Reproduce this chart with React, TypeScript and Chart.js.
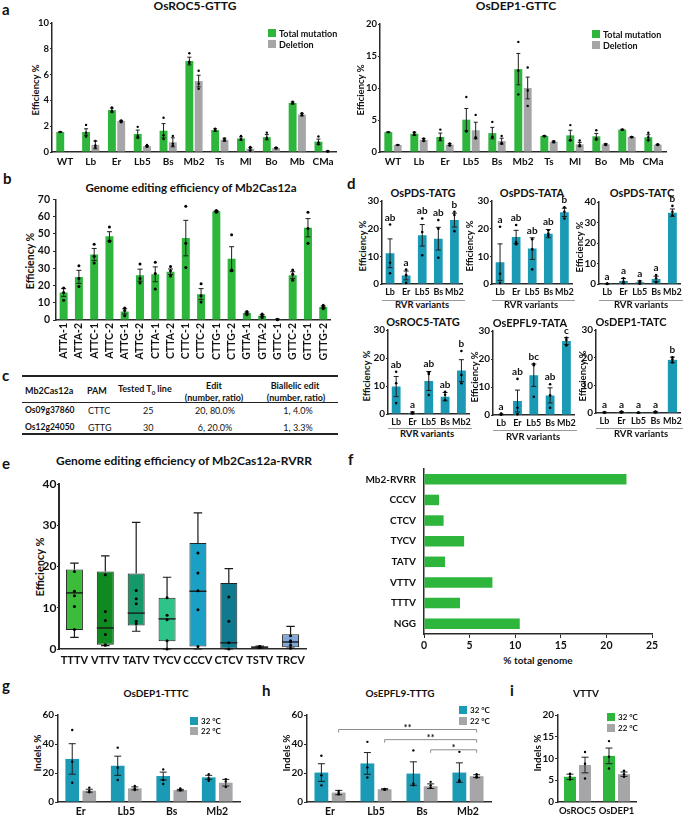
import React, { useEffect, useRef } from 'react';
import { Chart, registerables } from 'chart.js';

Chart.register(...registerables);

const FONT = 'Lato, "Open Sans", "DejaVu Sans", sans-serif';
const GREEN = '#2db53c';
const GRAY = '#a6a6a9';
const BLUE = '#1a9ab5';
const INK = '#111111';
const AXIS = '#2a2a2a';

// ---------- panel a ----------
const aCategories = ['WT', 'Lb', 'Er', 'Lb5', 'Bs', 'Mb2', 'Ts', 'Ml', 'Bo', 'Mb', 'CMa'];
const aRocTotal = [1.55, 1.55, 3.25, 1.4, 1.65, 7.05, 1.7, 1.05, 1.15, 3.8, 0.8];
const aRocTotalErr = [0.03, 0.25, 0.15, 0.3, 0.55, 0.3, 0.1, 0.12, 0.2, 0.08, 0.2];
const aRocTotalDots = [[1.55], [2.1, 1.5, 1.2], [3.45, 3.2, 3.1], [1.95, 1.25, 1.1], [2.65, 1.3, 1.0], [7.65, 7.0, 6.9], [1.8, 1.7, 1.65], [1.25, 1.0, 0.95], [1.5, 1.1, 1.0], [3.9, 3.8, 3.75], [1.2, 0.75, 0.6]];
const aRocDeletion = [0, 0.55, 2.4, 0.45, 0.75, 5.5, 0.95, 0.25, 0.3, 2.9, 0.05];
const aRocDeletionErr = [0, 0.3, 0.05, 0.05, 0.35, 0.45, 0.12, 0.1, 0.05, 0.1, 0.03];
const aRocDeletionDots = [[], [0.85, 0.5, 0.35], [2.45, 2.35, 2.3], [0.55, 0.45, 0.4], [1.25, 0.65, 0.5], [6.3, 5.3, 4.9], [1.05, 0.95, 0.9], [0.4, 0.3, 0.1], [0.35, 0.3, 0.3], [3.0, 2.9, 2.85], [0.08, 0.05, 0.03]];

const aDepTotal = [3.1, 2.85, 2.35, 5.05, 2.95, 12.95, 2.5, 2.6, 2.45, 3.5, 2.3];
const aDepTotalErr = [0.05, 0.25, 0.6, 1.75, 0.9, 2.45, 0.05, 0.8, 0.45, 0.05, 0.4];
const aDepTotalDots = [[3.1], [3.1, 2.8, 2.7], [3.5, 2.2, 1.9], [8.6, 3.3, 3.2], [4.7, 2.4, 2.3], [17.2, 12.7, 9.0], [2.5, 2.5, 2.45], [4.2, 1.9, 1.8], [3.4, 2.1, 1.9], [3.5, 3.5, 3.45], [3.0, 2.3, 1.8]];
const aDepDeletion = [1.1, 1.9, 1.15, 3.4, 1.7, 10.0, 1.6, 1.2, 1.2, 2.35, 1.15];
const aDepDeletionErr = [0.03, 0.2, 0.15, 1.25, 0.45, 1.7, 0.1, 0.3, 0.1, 0.03, 0.05];
const aDepDeletionDots = [[1.1], [2.1, 1.9, 1.7], [1.35, 1.1, 1.0], [5.8, 2.3, 2.1], [2.5, 1.4, 1.3], [13.2, 9.6, 7.2], [1.7, 1.6, 1.5], [1.8, 1.1, 0.9], [1.25, 1.2, 1.1], [2.35, 2.35, 2.3], [1.2, 1.15, 1.1]];

// ---------- panel b ----------
const bCategories = ['ATTA-1', 'ATTA-2', 'ATTC-1', 'ATTC-2', 'ATTG-1', 'ATTG-2', 'CTTA-1', 'CTTA-2', 'CTTC-1', 'CTTC-2', 'CTTG-1', 'CTTG-2', 'GTTA-1', 'GTTA-2', 'GTTC-1', 'GTTC-2', 'GTTG-1', 'GTTG-2'];
const bValues = [16, 25, 38, 48.5, 5, 26, 26.5, 28, 47.5, 15, 63, 35.5, 4, 2.5, 0.4, 26, 53.5, 7.5];
const bErr = [2.3, 3.8, 3.5, 2.7, 1.5, 3.5, 4.3, 1.6, 10.3, 3.2, 0.3, 7, 0.6, 0.6, 0.1, 2, 5.3, 0.6];
const bDots = [[18.5, 16, 11.5], [31.5, 24, 19.5], [44, 37, 33], [54, 46, 45.5], [7, 5.5, 2.5], [32.5, 24, 21.5], [33.5, 27, 18], [31, 28.5, 25.5], [66, 44.5, 30.5], [21, 14, 10.5], [63.5, 63, 62.5], [49.5, 29, 28.5], [5, 4, 3], [3.5, 2.5, 1.5], [0.5, 0.3, 0.2], [29, 26.5, 23], [62.5, 53, 44.5], [8.5, 7.5, 6.5]];

// ---------- panel c ----------
const cGenes = ['Os09g37860', 'Os12g24050'];
const cPAM = ['CTTC', 'GTTG'];
const cTested = ['25', '30'];
const cEdit = ['20, 80.0%', '6, 20.0%'];
const cBiallelic = ['1, 4.0%', '1, 3.3%'];

// ---------- panel d ----------
const dCategories = ['Lb', 'Er', 'Lb5', 'Bs', 'Mb2'];
const dTitles = ['OsPDS-TATG', 'OsPDS-TATA', 'OsPDS-TATC', 'OsROC5-TATG', 'OsEPFL9-TATA', 'OsDEP1-TATC'];
const dValues = [
  [11.1, 3.1, 17.6, 16.4, 23.1],
  [7.9, 17.0, 12.8, 18.2, 25.9],
  [0.1, 1.5, 0.8, 2.5, 34.8],
  [9.8, 0.4, 11.8, 6.2, 15.5],
  [0.2, 5.0, 14.2, 7.0, 26.4],
  [0.2, 0.3, 0.1, 0.3, 19.2],
];
const dErr = [
  [5.2, 1.6, 3.9, 4.1, 2.5],
  [6.6, 2.4, 3.9, 1.5, 1.5],
  [0.1, 1.2, 0.7, 1.3, 1.8],
  [3.6, 0.3, 3.4, 1.5, 3.9],
  [0.1, 3.9, 4.0, 2.7, 1.2],
  [0.1, 0.2, 0.05, 0.2, 1.0],
];
const dDots = [
  [[21.5, 7.7, 3.9], [5.2, 3.2, 0.4], [23.7, 18.8, 10.4], [23.1, 20, 9.5], [26.1, 24.9, 19.1]],
  [[20.7, 3.7, 0.4], [21.3, 15.2, 14.4], [16.2, 12.5, 5.3], [19.4, 18.2, 17.4], [27.7, 26.1, 23.7]],
  [[0.2, 0.1, 0], [2.8, 1.2, 0.4], [1.5, 0.8, 0.2], [4.4, 2.8, 0.8], [38.1, 35.2, 33.5]],
  [[15.1, 11, 3.9], [0.6, 0.4, 0.2], [14.9, 14.3, 6.8], [7.9, 6.9, 5.0], [22.5, 13.9, 11]],
  [[0.5, 0.3, 0.1], [12.9, 2.6, 0.3], [18.3, 17.8, 6.5], [11, 7, 2.6], [27.6, 26.8, 24.8]],
  [[0.3, 0.2, 0.1], [0.5, 0.3, 0.2], [0.2, 0.1, 0.1], [0.5, 0.3, 0.2], [20.1, 19.3, 18.3]],
];
const dLetters = [
  ['ab', 'a', 'ab', 'ab', 'b'],
  ['a', 'ab', 'ab', 'ab', 'b'],
  ['a', 'a', 'a', 'a', 'b'],
  ['ab', 'a', 'ab', 'ab', 'b'],
  ['a', 'ab', 'bc', 'ab', 'c'],
  ['a', 'a', 'a', 'a', 'b'],
];
const dYMax = [30, 30, 40, 30, 30, 30];

// ---------- panel e ----------
const eCategories = ['TTTV', 'VTTV', 'TATV', 'TYCV', 'CCCV', 'CTCV', 'TSTV', 'TRCV'];
const eMin = [2.8, 0.8, 4.3, 0, 0, 0, 0.2, 0.2];
const eQ1 = [4.6, 1.05, 5.7, 1.9, 0.6, 0.05, 0.3, 0.4];
const eMedian = [13.6, 5.1, 8.7, 7.3, 14.0, 1.5, 0.45, 1.7];
const eQ3 = [19.3, 18.8, 18.3, 12.4, 25.7, 16.0, 0.6, 3.6];
const eMax = [20.8, 22.6, 30.7, 17.4, 33.0, 19.5, 0.7, 5.5];
const ePoints = [
  [18.8, 14.0, 12.9, 10.3, 4.7],
  [18.0, 9.1, 6.9, 3.5, 1.05, 0.9],
  [14.2, 12.2, 11.0, 6.7, 6.1],
  [12.4, 8.2, 7.1, 2.0, 0],
  [23.3, 18.4, 14.1, 9.5, 0.6],
  [12.6, 6.7, 1.5, 0],
  [0.6, 0.55, 0.5, 0.45, 0.4, 0.35],
  [3.2, 2.0, 1.7, 0.9, 0.2],
];
const eColors = ['#3cbc3a', '#0f8a21', '#16996a', '#2ec487', '#1b9fc4', '#117a8f', '#2f6272', '#7fa8d8'];

// ---------- panel f ----------
const fCategories = ['Mb2-RVRR', 'CCCV', 'CTCV', 'TYCV', 'TATV', 'VTTV', 'TTTV', 'NGG'];
const fValues = [22.2, 1.65, 2.15, 4.4, 2.3, 7.5, 3.95, 10.5];

// ---------- panel g ----------
const gCategories = ['Er', 'Lb5', 'Bs', 'Mb2'];
const g32 = [29.7, 25.0, 17.9, 17.0];
const g32Err = [10.5, 6.6, 2.7, 1.4];
const g32Dots = [[49.7, 27.8, 13.3], [37.5, 23.7, 15.2], [22.5, 15.2, 12.4], [19.1, 16.4, 14.7]];
const g22 = [7.8, 9.4, 8.2, 13.3];
const g22Err = [1.0, 1.0, 0.5, 2.3];
const g22Dots = [[9.9, 7.6, 6.7], [11, 9.4, 8.3], [9.4, 8.3, 8.1], [15.8, 14.2, 10.3]];

// ---------- panel h ----------
const hCategories = ['Er', 'Lb5', 'Bs', 'Mb2'];
const h32 = [20.3, 26.6, 19.6, 20.3];
const h32Err = [6.1, 7.5, 8.1, 6.7];
const h32Dots = [[31.9, 18.5, 11.5], [41.5, 23.8, 16.9], [35.6, 12.7, 11.5], [34.6, 15, 13.9]];
const h22 = [6.5, 8.8, 10.9, 17.8];
const h22Err = [1.5, 0.4, 1.6, 1.0];
const h22Dots = [[7.6, 6.2, 5.3], [9, 8.7, 8.5], [13.9, 11.5, 9.9], [19.2, 17.8, 16.9]];
const hBrackets: [number, number, number, string][] = [[0, 3, 50, '**'], [1, 3, 43, '**'], [2, 3, 36, '*']];

// ---------- panel i ----------
const iCategories = ['OsROC5', 'OsDEP1'];
const i32 = [5.8, 10.6];
const i32Err = [0.6, 1.8];
const i32Dots = [[6.5, 5.8, 5.2], [14, 10.4, 7.7]];
const i22 = [8.5, 6.4];
const i22Err = [1.8, 0.5];
const i22Dots = [[11.5, 8.8, 5.4], [7.2, 6.4, 5.8]];

// ---------- drawing helpers ----------
type Decor = {
  errors?: number[][];
  dots?: number[][][];
  letters?: string[];
  brackets?: [number, number, number, string][];
  cap?: number;
  dotR?: number;
};

function decorPlugin(cfg: Decor) {
  return {
    id: 'decor',
    afterDatasetsDraw(chart: any) {
      const ctx = chart.ctx as CanvasRenderingContext2D;
      const ys = chart.scales.y;
      const cap = cfg.cap ?? 2.5;
      const r = cfg.dotR ?? 1.4;
      ctx.save();
      chart.data.datasets.forEach((ds: any, di: number) => {
        const meta = chart.getDatasetMeta(di);
        meta.data.forEach((el: any, j: number) => {
          const v = ds.data[j] as number;
          const e = cfg.errors?.[di]?.[j] ?? 0;
          if (e > 0) {
            const yTop = ys.getPixelForValue(v + e);
            const yBot = ys.getPixelForValue(Math.max(0, v - e));
            ctx.strokeStyle = '#1e1e1e';
            ctx.lineWidth = 1;
            ctx.beginPath();
            ctx.moveTo(el.x, yBot);
            ctx.lineTo(el.x, yTop);
            ctx.moveTo(el.x - cap, yTop);
            ctx.lineTo(el.x + cap, yTop);
            ctx.moveTo(el.x - cap, yBot);
            ctx.lineTo(el.x + cap, yBot);
            ctx.stroke();
          }
          const pts = cfg.dots?.[di]?.[j] ?? [];
          ctx.fillStyle = '#000';
          pts.forEach((p) => {
            ctx.beginPath();
            ctx.arc(el.x, ys.getPixelForValue(p), r, 0, Math.PI * 2);
            ctx.fill();
          });
        });
      });
      if (cfg.letters) {
        const meta = chart.getDatasetMeta(0);
        const ds = chart.data.datasets[0];
        ctx.fillStyle = INK;
        ctx.font = `bold 10px ${FONT}`;
        ctx.textAlign = 'center';
        ctx.textBaseline = 'alphabetic';
        meta.data.forEach((el: any, j: number) => {
          const v = ds.data[j] as number;
          const e = cfg.errors?.[0]?.[j] ?? 0;
          const top = Math.max(v + e, ...(cfg.dots?.[0]?.[j] ?? [0]));
          ctx.fillText(cfg.letters![j], el.x, ys.getPixelForValue(top) - 4);
        });
      }
      if (cfg.brackets) {
        const meta = chart.getDatasetMeta(1);
        cfg.brackets.forEach(([a, b, val, label]) => {
          const x1 = meta.data[a].x;
          const x2 = meta.data[b].x;
          const y = ys.getPixelForValue(val);
          ctx.strokeStyle = '#8c8c8c';
          ctx.lineWidth = 1;
          ctx.beginPath();
          ctx.moveTo(x1, y + 3);
          ctx.lineTo(x1, y);
          ctx.lineTo(x2, y);
          ctx.lineTo(x2, y + 3);
          ctx.stroke();
          ctx.fillStyle = INK;
          ctx.font = `bold 9px ${FONT}`;
          ctx.textAlign = 'center';
          ctx.textBaseline = 'alphabetic';
          ctx.fillText(label, (x1 + x2) / 2, y + 1.5);
        });
      }
      ctx.restore();
    },
  };
}

function boxPlugin() {
  return {
    id: 'boxes',
    afterDatasetsDraw(chart: any) {
      const ctx = chart.ctx as CanvasRenderingContext2D;
      const ys = chart.scales.y;
      const meta = chart.getDatasetMeta(0);
      ctx.save();
      meta.data.forEach((el: any, j: number) => {
        const x = el.x;
        const w = el.width;
        ctx.strokeStyle = '#1a1a1a';
        ctx.lineWidth = 1.2;
        ctx.beginPath();
        ctx.moveTo(x, ys.getPixelForValue(eQ3[j]));
        ctx.lineTo(x, ys.getPixelForValue(eMax[j]));
        ctx.moveTo(x - w * 0.25, ys.getPixelForValue(eMax[j]));
        ctx.lineTo(x + w * 0.25, ys.getPixelForValue(eMax[j]));
        ctx.moveTo(x, ys.getPixelForValue(eQ1[j]));
        ctx.lineTo(x, ys.getPixelForValue(eMin[j]));
        ctx.moveTo(x - w * 0.25, ys.getPixelForValue(eMin[j]));
        ctx.lineTo(x + w * 0.25, ys.getPixelForValue(eMin[j]));
        ctx.stroke();
        ctx.lineWidth = 1.4;
        ctx.beginPath();
        ctx.moveTo(x - w / 2, ys.getPixelForValue(eMedian[j]));
        ctx.lineTo(x + w / 2, ys.getPixelForValue(eMedian[j]));
        ctx.stroke();
        ctx.fillStyle = '#000';
        ePoints[j].forEach((p) => {
          ctx.beginPath();
          ctx.arc(x, ys.getPixelForValue(p), 1.5, 0, Math.PI * 2);
          ctx.fill();
        });
      });
      ctx.restore();
    },
  };
}

const font = (size: number) => ({ family: FONT, size, weight: 'bold' as const });

function yLinear(min: number, max: number, step: number, w: number, size: number, tl: number, pad: number) {
  return {
    type: 'linear',
    min,
    max,
    ticks: { stepSize: step, color: INK, font: font(size), padding: pad },
    grid: { display: true, drawOnChartArea: false, drawTicks: true, tickLength: tl, color: AXIS, lineWidth: 1 },
    border: { display: true, color: AXIS, width: 1.5 },
    afterFit: (s: any) => {
      s.width = w;
    },
  };
}

function xCategory(h: number, size: number, pad: number, rot = 0) {
  return {
    type: 'category',
    ticks: { autoSkip: false, color: INK, font: font(size), padding: pad, maxRotation: rot, minRotation: rot },
    grid: { display: false, drawTicks: false },
    border: { display: true, color: AXIS, width: 1.5 },
    afterFit: (s: any) => {
      s.height = h;
    },
  };
}

function baseOptions() {
  return {
    responsive: false,
    animation: false,
    events: [],
    plugins: { legend: { display: false }, title: { display: false }, tooltip: { enabled: false } },
  } as any;
}

type BarSpec = {
  labels: string[];
  series: { data: number[]; color: string }[];
  yMax: number;
  step: number;
  yFont: number;
  xFont: number;
  xPad: number;
  tl: number;
  yPad: number;
  rot?: number;
  cat: number;
  bar: number;
  decor: Decor;
};

function barConfig(spec: BarSpec) {
  return (yW: number, xH: number) => {
    const options = baseOptions();
    options.scales = {
      x: xCategory(xH, spec.xFont, spec.xPad, spec.rot ?? 0),
      y: yLinear(0, spec.yMax, spec.step, yW, spec.yFont, spec.tl, spec.yPad),
    };
    return {
      type: 'bar',
      data: {
        labels: spec.labels,
        datasets: spec.series.map((s) => ({
          data: s.data,
          backgroundColor: s.color,
          borderWidth: 0,
          categoryPercentage: spec.cat,
          barPercentage: spec.bar,
        })),
      },
      options,
      plugins: [decorPlugin(spec.decor)],
    };
  };
}

function ChartBox({ rect, yW, xH, padT = 8, padR = 6, make }: { rect: number[]; yW: number; xH: number; padT?: number; padR?: number; make: (yW: number, xH: number) => any }) {
  const ref = useRef<HTMLCanvasElement | null>(null);
  const [l, t, r, b] = rect;
  const left = l - yW;
  const top = t - padT;
  const width = Math.round(r - l + yW + padR);
  const height = Math.round(b - t + padT + xH);
  useEffect(() => {
    const cfg = make(yW, xH);
    cfg.options.layout = { padding: { top: padT, right: padR, left: 0, bottom: 0 } };
    const chart = new Chart(ref.current as HTMLCanvasElement, cfg);
    return () => chart.destroy();
  }, []);
  return <canvas ref={ref} width={width} height={height} style={{ position: 'absolute', left, top, width, height }} />;
}

function Txt({ x, y, size = 10, bold = true, align = 'center', rot = false, children }: { x: number; y: number; size?: number; bold?: boolean; align?: string; rot?: boolean; children: any }) {
  const tx = align === 'center' ? '-50%' : align === 'right' ? '-100%' : '0';
  return (
    <div
      style={{
        position: 'absolute',
        left: x,
        top: y,
        transform: `translate(${tx}, -50%)${rot ? ' rotate(-90deg)' : ''}`,
        whiteSpace: 'nowrap',
        fontFamily: FONT,
        fontSize: size,
        fontWeight: bold ? 700 : 400,
        color: INK,
        lineHeight: 1,
      }}
    >
      {children}
    </div>
  );
}

function Legend({ x, y, color, label, size = 9, box = 8 }: { x: number; y: number; color: string; label: string; size?: number; box?: number }) {
  return (
    <>
      <div style={{ position: 'absolute', left: x, top: y - box / 2, width: box, height: box, background: color }} />
      <Txt x={x + box + 3} y={y} size={size} align="left">
        {label}
      </Txt>
    </>
  );
}

function HLine({ x1, x2, y, w = 1, color = '#222' }: { x1: number; x2: number; y: number; w?: number; color?: string }) {
  return <div style={{ position: 'absolute', left: x1, top: y - w / 2, width: x2 - x1, height: w, background: color }} />;
}

const dRects = [
  [382, 201, 465, 283.5],
  [492, 201, 575, 283.5],
  [599, 202, 683, 284],
  [388, 330, 472, 414],
  [493, 331, 577, 415],
  [596, 330, 683, 413],
];
const dTitlePos = [[423, 192], [532, 192], [642, 192], [423, 321], [530, 322], [631, 321]];
const dYLabelX = [363, 470, 580, 367, 475, 583];
const dRvr = [[422, 305, 300], [531, 305, 300], [641, 305, 300], [427, 434, 428], [533, 437, 430], [641, 434, 428]];

export default function App() {
  return (
    <div style={{ position: 'absolute', left: 0, top: 0, width: 685, height: 815, background: '#fff', overflow: 'hidden' }}>
      {/* panel letters */}
      <Txt x={2} y={9} size={15} align="left">a</Txt>
      <Txt x={3} y={178} size={15} align="left">b</Txt>
      <Txt x={2} y={375} size={15} align="left">c</Txt>
      <Txt x={347} y={183} size={15} align="left">d</Txt>
      <Txt x={2} y={463} size={15} align="left">e</Txt>
      <Txt x={348} y={459} size={15} align="left">f</Txt>
      <Txt x={2} y={685} size={15} align="left">g</Txt>
      <Txt x={262} y={690} size={15} align="left">h</Txt>
      <Txt x={510} y={690} size={15} align="left">i</Txt>

      {/* panel a */}
      <Txt x={195} y={6} size={12}>OsROC5-GTTG</Txt>
      <Txt x={36} y={90} size={9.5} rot>Efficiency %</Txt>
      <ChartBox
        rect={[52, 23, 336, 152]}
        yW={30}
        xH={16}
        make={barConfig({
          labels: aCategories,
          series: [
            { data: aRocTotal, color: GREEN },
            { data: aRocDeletion, color: GRAY },
          ],
          yMax: 10,
          step: 2,
          yFont: 9.5,
          xFont: 10,
          xPad: 4,
          tl: 2,
          yPad: 1,
          cat: 0.72,
          bar: 0.85,
          decor: { errors: [aRocTotalErr, aRocDeletionErr], dots: [aRocTotalDots, aRocDeletionDots], cap: 2, dotR: 1.2 },
        })}
      />
      <Legend x={268} y={33} color={GREEN} label="Total mutation" />
      <Legend x={268} y={43.5} color={GRAY} label="Deletion" />

      <Txt x={516} y={6} size={12}>OsDEP1-GTTC</Txt>
      <Txt x={361} y={90} size={9.5} rot>Efficiency %</Txt>
      <ChartBox
        rect={[380, 24, 666, 152]}
        yW={30}
        xH={16}
        make={barConfig({
          labels: aCategories,
          series: [
            { data: aDepTotal, color: GREEN },
            { data: aDepDeletion, color: GRAY },
          ],
          yMax: 20,
          step: 5,
          yFont: 9.5,
          xFont: 10,
          xPad: 4,
          tl: 2,
          yPad: 1,
          cat: 0.72,
          bar: 0.85,
          decor: { errors: [aDepTotalErr, aDepDeletionErr], dots: [aDepTotalDots, aDepDeletionDots], cap: 2, dotR: 1.2 },
        })}
      />
      <Legend x={592} y={33.5} color={GREEN} label="Total mutation" />
      <Legend x={592} y={44.5} color={GRAY} label="Deletion" />

      {/* panel b */}
      <Txt x={191} y={188} size={11.5}>Genome editing efficiency of Mb2Cas12a</Txt>
      <Txt x={30} y={261} size={10.5} rot>Efficiency %</Txt>
      <ChartBox
        rect={[56, 198, 333, 320]}
        yW={30}
        xH={50}
        make={barConfig({
          labels: bCategories,
          series: [{ data: bValues, color: GREEN }],
          yMax: 70,
          step: 10,
          yFont: 10.5,
          xFont: 10.5,
          xPad: 3,
          tl: 3,
          yPad: 3,
          rot: 90,
          cat: 0.6,
          bar: 0.87,
          decor: { errors: [bErr], dots: [bDots], cap: 2.5, dotR: 1.5 },
        })}
      />

      {/* panel c table */}
      <HLine x1={22} x2={338} y={376} w={1.8} />
      <Txt x={25} y={390} size={9} align="left">Mb2Cas12a</Txt>
      <Txt x={87} y={390} size={9} align="left">PAM</Txt>
      <Txt x={118} y={390} size={9} align="left">
        Tested T<sub style={{ fontSize: 6 }}>0</sub> line
      </Txt>
      <Txt x={214} y={385} size={9}>Edit</Txt>
      <Txt x={214} y={397} size={9}>(number, ratio)</Txt>
      <Txt x={295} y={385} size={9}>Biallelic edit</Txt>
      <Txt x={296} y={397} size={9}>(number, ratio)</Txt>
      <HLine x1={22} x2={338} y={402.5} w={1} />
      {cGenes.map((g, i) => (
        <React.Fragment key={g}>
          <Txt x={25} y={410 + i * 17} size={8.5} align="left">{g}</Txt>
          <Txt x={88} y={410 + i * 17} size={9} bold={false} align="left">{cPAM[i]}</Txt>
          <Txt x={143} y={410 + i * 17} size={9} bold={false} align="left">{cTested[i]}</Txt>
          <Txt x={215} y={410 + i * 17} size={9} bold={false}>{cEdit[i]}</Txt>
          <Txt x={298} y={410 + i * 17} size={9} bold={false}>{cBiallelic[i]}</Txt>
        </React.Fragment>
      ))}
      <HLine x1={22} x2={338} y={434} w={1.8} />

      {/* panel d */}
      {dTitles.map((title, k) => (
        <React.Fragment key={title}>
          <Txt x={dTitlePos[k][0]} y={dTitlePos[k][1]} size={11}>{title}</Txt>
          <Txt x={dYLabelX[k]} y={(dRects[k][1] + dRects[k][3]) / 2 + 4} size={9.5} rot>Efficiency %</Txt>
          <ChartBox
            rect={dRects[k]}
            yW={22}
            xH={14}
            padR={2}
            make={barConfig({
              labels: dCategories,
              series: [{ data: dValues[k], color: BLUE }],
              yMax: dYMax[k],
              step: 10,
              yFont: 10,
              xFont: 9,
              xPad: 3,
              tl: 2,
              yPad: 1,
              cat: 0.6,
              bar: 0.9,
              decor: { errors: [dErr[k]], dots: [dDots[k]], letters: dLetters[k], cap: 2.5, dotR: 1.3 },
            })}
          />
          <HLine x1={dRects[k][0]} x2={dRects[k][2]} y={dRvr[k][2]} w={1} color="#9a9a9a" />
          <Txt x={dRvr[k][0]} y={dRvr[k][1]} size={9.5}>RVR variants</Txt>
        </React.Fragment>
      ))}

      {/* panel e */}
      <Txt x={184} y={461} size={12}>Genome editing efficiency of Mb2Cas12a-RVRR</Txt>
      <Txt x={39} y={567} size={11} rot>Efficiency %</Txt>
      <ChartBox
        rect={[59, 484, 306, 649]}
        yW={26}
        xH={22}
        make={(yW: number, xH: number) => {
          const options = baseOptions();
          options.scales = {
            x: xCategory(xH, 11, 5),
            y: yLinear(0, 40, 10, yW, 12, 2, 0.5),
          };
          options.scales.y.border.width = 2;
          return {
            type: 'bar',
            data: {
              labels: eCategories,
              datasets: [
                {
                  data: eQ1.map((q, i) => [q, eQ3[i]]),
                  backgroundColor: eColors,
                  borderColor: '#222',
                  borderWidth: 1,
                  borderSkipped: false,
                  categoryPercentage: 1,
                  barPercentage: 0.55,
                },
              ],
            },
            options,
            plugins: [boxPlugin()],
          };
        }}
      />

      {/* panel f */}
      <ChartBox
        rect={[424, 463, 652, 634]}
        yW={90}
        xH={18}
        padR={10}
        make={(yW: number, xH: number) => {
          const options = baseOptions();
          options.indexAxis = 'y';
          options.scales = {
            x: {
              type: 'linear',
              min: 0,
              max: 25,
              ticks: { stepSize: 5, color: INK, font: font(10.5), padding: 1 },
              grid: { display: true, drawOnChartArea: false, drawTicks: true, tickLength: 4, color: AXIS },
              border: { display: true, color: AXIS, width: 1.5 },
              afterFit: (s: any) => {
                s.height = xH;
              },
            },
            y: {
              type: 'category',
              ticks: { autoSkip: false, color: INK, font: font(10), padding: 8 },
              grid: { display: false, drawTicks: false },
              border: { display: true, color: AXIS, width: 1.5 },
              afterFit: (s: any) => {
                s.width = yW;
              },
            },
          };
          return {
            type: 'bar',
            data: {
              labels: fCategories,
              datasets: [{ data: fValues, backgroundColor: GREEN, borderWidth: 0, categoryPercentage: 0.6, barPercentage: 0.85 }],
            },
            options,
          };
        }}
      />
      <Txt x={538} y={660} size={10}>% total genome</Txt>

      {/* panel g */}
      <Txt x={156} y={693} size={10}>OsDEP1-TTTC</Txt>
      <Txt x={37} y={753} size={10} rot>Indels %</Txt>
      <ChartBox
        rect={[58, 715, 240, 802]}
        yW={24}
        xH={13}
        make={barConfig({
          labels: gCategories,
          series: [
            { data: g32, color: BLUE },
            { data: g22, color: GRAY },
          ],
          yMax: 60,
          step: 10,
          yFont: 10,
          xFont: 10.5,
          xPad: 3,
          tl: 3,
          yPad: 1,
          cat: 0.75,
          bar: 0.8,
          decor: { errors: [g32Err, g22Err], dots: [g32Dots, g22Dots], cap: 3.5, dotR: 1.2 },
        })}
      />
      <Legend x={190} y={721} color={BLUE} label="32 °C" size={8} />
      <Legend x={190} y={731} color={GRAY} label="22 °C" size={8} />

      {/* panel h */}
      <Txt x={400} y={693} size={10}>OsEPFL9-TTTG</Txt>
      <Txt x={286} y={753} size={10} rot>Indels %</Txt>
      <ChartBox
        rect={[307, 715, 491, 802]}
        yW={24}
        xH={13}
        make={barConfig({
          labels: hCategories,
          series: [
            { data: h32, color: BLUE },
            { data: h22, color: GRAY },
          ],
          yMax: 60,
          step: 10,
          yFont: 10,
          xFont: 10.5,
          xPad: 3,
          tl: 3,
          yPad: 1,
          cat: 0.75,
          bar: 0.8,
          decor: { errors: [h32Err, h22Err], dots: [h32Dots, h22Dots], brackets: hBrackets, cap: 3.5, dotR: 1.2 },
        })}
      />
      <Legend x={459} y={709.5} color={BLUE} label="32 °C" size={8} />
      <Legend x={459} y={720.5} color={GRAY} label="22 °C" size={8} />

      {/* panel i */}
      <Txt x={586} y={693} size={10}>VTTV</Txt>
      <Txt x={537} y={753} size={10} rot>Indels %</Txt>
      <ChartBox
        rect={[558, 715, 636, 802]}
        yW={24}
        xH={13}
        make={barConfig({
          labels: iCategories,
          series: [
            { data: i32, color: GREEN },
            { data: i22, color: GRAY },
          ],
          yMax: 20,
          step: 5,
          yFont: 10,
          xFont: 9.5,
          xPad: 3,
          tl: 3,
          yPad: 1,
          cat: 0.77,
          bar: 0.8,
          decor: { errors: [i32Err, i22Err], dots: [i32Dots, i22Dots], cap: 3.5, dotR: 1.2 },
        })}
      />
      <Legend x={607} y={717} color={GREEN} label="32 °C" size={8} />
      <Legend x={607} y={728} color={GRAY} label="22 °C" size={8} />
    </div>
  );
}
